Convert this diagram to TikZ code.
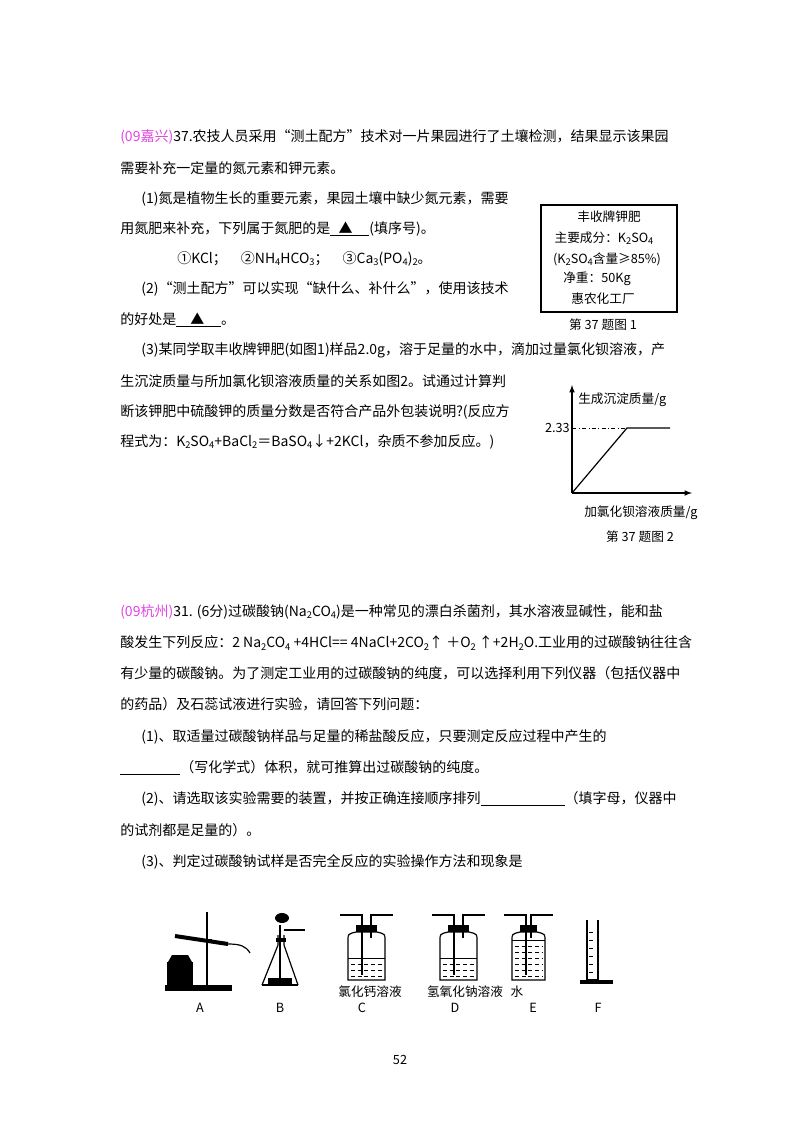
\documentclass[tikz,border=0pt]{standalone}
\usepackage{fontspec}
\setmainfont{Noto Sans CJK SC}
\newcommand{\sbs}[1]{\raisebox{-0.3ex}{\scriptsize #1}}
\definecolor{pinkc}{RGB}{225,70,225}
\begin{document}
\begin{tikzpicture}[x=0.75pt,y=-0.75pt,
  tl/.style={anchor=west,inner sep=0,font=\fontsize{10.5}{12}\selectfont},
  sm/.style={inner sep=0,font=\fontsize{9.5}{11}\selectfont},
  lab/.style={inner sep=0,font=\fontsize{9.5}{11}\selectfont},
  app/.style={line width=0.9pt}]
\useasboundingbox[fill=white] (0,0) rectangle (800,1132);
% Section 1
\node[tl] (l1) at (120,137) {\textcolor{pinkc}{(09嘉兴)}37.农技人员采用“测土配方”技术对一片果园进行了土壤检测，结果显示该果园};
\node[tl] (l2) at (120,168) {需要补充一定量的氮元素和钾元素。};
\node[tl] (l3) at (141,199) {(1)氮是植物生长的重要元素，果园土壤中缺少氮元素，需要};
\node[tl] (l4) at (120,229) {用氮肥来补充，下列属于氮肥的是\underline{\hspace{0.6em}▲\hspace{1.2em}}(填序号)。};
\node[tl] (l5) at (177,259) {①KCl；\quad ②NH\sbs{4}HCO\sbs{3}；\quad ③Ca\sbs{3}(PO\sbs{4})\sbs{2}。};
\node[tl] (l6) at (141,289) {(2)“测土配方”可以实现“缺什么、补什么”，使用该技术};
\node[tl] (l7) at (120,320) {的好处是\underline{\hspace{1em}▲\hspace{1.2em}}。};
\node[tl] (l8) at (141,350) {(3)某同学取丰收牌钾肥(如图1)样品2.0g，溶于足量的水中，滴加过量氯化钡溶液，产};
\node[tl] (l9) at (120,381) {生沉淀质量与所加氯化钡溶液质量的关系如图2。试通过计算判};
\node[tl] (l10) at (120,412) {断该钾肥中硫酸钾的质量分数是否符合产品外包装说明?(反应方};
\node[tl] (l11) at (120,442) {程式为：K\sbs{2}SO\sbs{4}+BaCl\sbs{2}＝BaSO\sbs{4}↓+2KCl，杂质不参加反应。)};
% Figure 1
\draw[line width=1pt] (541,205) rectangle (677,312);
\node[sm] (f1) at (609,217) {丰收牌钾肥};
\node[sm] (f2) at (604,238) {主要成分：K\sbs{2}SO\sbs{4}};
\node[sm] (f3) at (607,259) {(K\sbs{2}SO\sbs{4}含量≥85\%)};
\node[sm] (f4) at (597,279) {净重：50Kg};
\node[sm] (f5) at (603,299) {惠农化工厂};
\node[sm] (c1) at (603,325) {第 37 题图 1};
% Figure 2
\coordinate (o) at (572,493);
\coordinate (ytop) at (572,385);
\coordinate (xend) at (692,493);
\coordinate (bend) at (627,428);
\coordinate (hend) at (670,428);
\coordinate (ya) at (572,428);
\draw[line width=0.9pt,-latex] (o) -- (ytop);
\draw[line width=0.9pt,-latex] (o) -- (xend);
\draw[line width=0.9pt] (o) -- (bend) -- (hend);
\draw[dash dot] (ya) -- (bend);
\node[sm,anchor=east] (v) at (570,428) {2.33};
\node[sm,anchor=west] (yl) at (578,400) {生成沉淀质量/g};
\node[sm,anchor=west] (xl) at (584,513) {加氯化钡溶液质量/g};
\node[sm] (c2) at (640,537) {第 37 题图 2};
% Section 2
\node[tl] (m1) at (120,612) {\textcolor{pinkc}{(09杭州)}31. (6分)过碳酸钠(Na\sbs{2}CO\sbs{4})是一种常见的漂白杀菌剂，其水溶液显碱性，能和盐};
\node[tl] (m2) at (120,643) {酸发生下列反应：2 Na\sbs{2}CO\sbs{4} +4HCl== 4NaCl+2CO\sbs{2}↑ ＋O\sbs{2} ↑+2H\sbs{2}O.工业用的过碳酸钠往往含};
\node[tl] (m3) at (120,673) {有少量的碳酸钠。为了测定工业用的过碳酸钠的纯度，可以选择利用下列仪器（包括仪器中};
\node[tl] (m4) at (120,704) {的药品）及石蕊试液进行实验，请回答下列问题：};
\node[tl] (m5) at (141,737) {(1)、取适量过碳酸钠样品与足量的稀盐酸反应，只要测定反应过程中产生的};
\node[tl] (m6) at (120,768) {\underline{\hspace{4.3em}}（写化学式）体积，就可推算出过碳酸钠的纯度。};
\node[tl] (m7) at (141,799) {(2)、请选取该实验需要的装置，并按正确连接顺序排列\underline{\hspace{6em}}（填字母，仪器中};
\node[tl] (m8) at (120,830) {的试剂都是足量的）。};
\node[tl] (m9) at (141,862) {(3)、判定过碳酸钠试样是否完全反应的实验操作方法和现象是};
% Apparatus A
\fill (167,962) rectangle (193,985);
\fill (172,955) -- (188,955) -- (192,962) -- (168,962) -- cycle;
\fill (165,985) rectangle (232,991);
\draw[app,line width=1.4pt] (207,912) -- (207,985);
\draw[app,line width=3pt] (175,936) -- (228,944);
\draw[app] (228,944) .. controls (240,944) and (246,946) .. (250,953);
\draw[app] (200,940) -- (212,940);
% Apparatus B
\draw[app] (262,985) -- (278,945) -- (278,935);
\draw[app] (298,985) -- (284,945) -- (284,935);
\draw[app] (262,985) -- (298,985);
\draw[line width=2.5pt] (276,940) -- (286,940);
\draw[app] (280,925) -- (280,982);
\fill (282,918) ellipse (7 and 5);
\draw[app] (284,930) -- (305,930);
\fill (268,978) rectangle (292,984);
% Bottles
\foreach \xl/\xr/\lv in {348/385/958, 440/477/958, 512/545/940} {
  \draw[app] (\xl,980) -- (\xl,940) .. controls (\xl,934) .. (\xl+8,932) -- (\xr-8,932) .. controls (\xr,934) .. (\xr,940) -- (\xr,980) -- cycle;
  \fill (\xl+8,925) rectangle (\xr-8,932);
  \draw[app] (\xl+14,925) -- (\xl+14,915) -- (\xl-8,915);
  \draw[app] (\xr-14,925) -- (\xr-14,915) -- (\xr+8,915);
  \draw[app] (\xl+14,925) -- (\xl+14,975);
  \draw[app] (\xr-14,925) -- (\xr-14,938);
  \draw[line width=0.5pt] (\xl,\lv) -- (\xr,\lv);
  \foreach \yy in {964,970,976} {\draw[line width=0.6pt,densely dashed] (\xl+3,\yy) -- (\xr-3,\yy);}
}
\foreach \yy in {946,952,958} {\draw[line width=0.6pt,densely dashed] (515,\yy) -- (542,\yy);}
% Cylinder F
\draw[app] (587,920) -- (587,980) -- (598,980) -- (598,920);
\fill (580,980) rectangle (613,984);
\foreach \yy in {932,940,948,956,964,972} {\draw (589,\yy) -- (593,\yy);}
% Labels
\node[lab] (cn1) at (370,992) {氯化钙溶液};
\node[lab] (cn2) at (465,992) {氢氧化钠溶液};
\node[lab] (cn3) at (517,992) {水};
\foreach \n/\xx in {A/200,B/280,C/362,D/455,E/533,F/598} {\node[lab,font=\fontsize{9.5}{11}\selectfont\rmfamily] (L\n) at (\xx,1008) {\n};}
\node[lab] (pg) at (400,1060) {52};
\end{tikzpicture}
\end{document}
